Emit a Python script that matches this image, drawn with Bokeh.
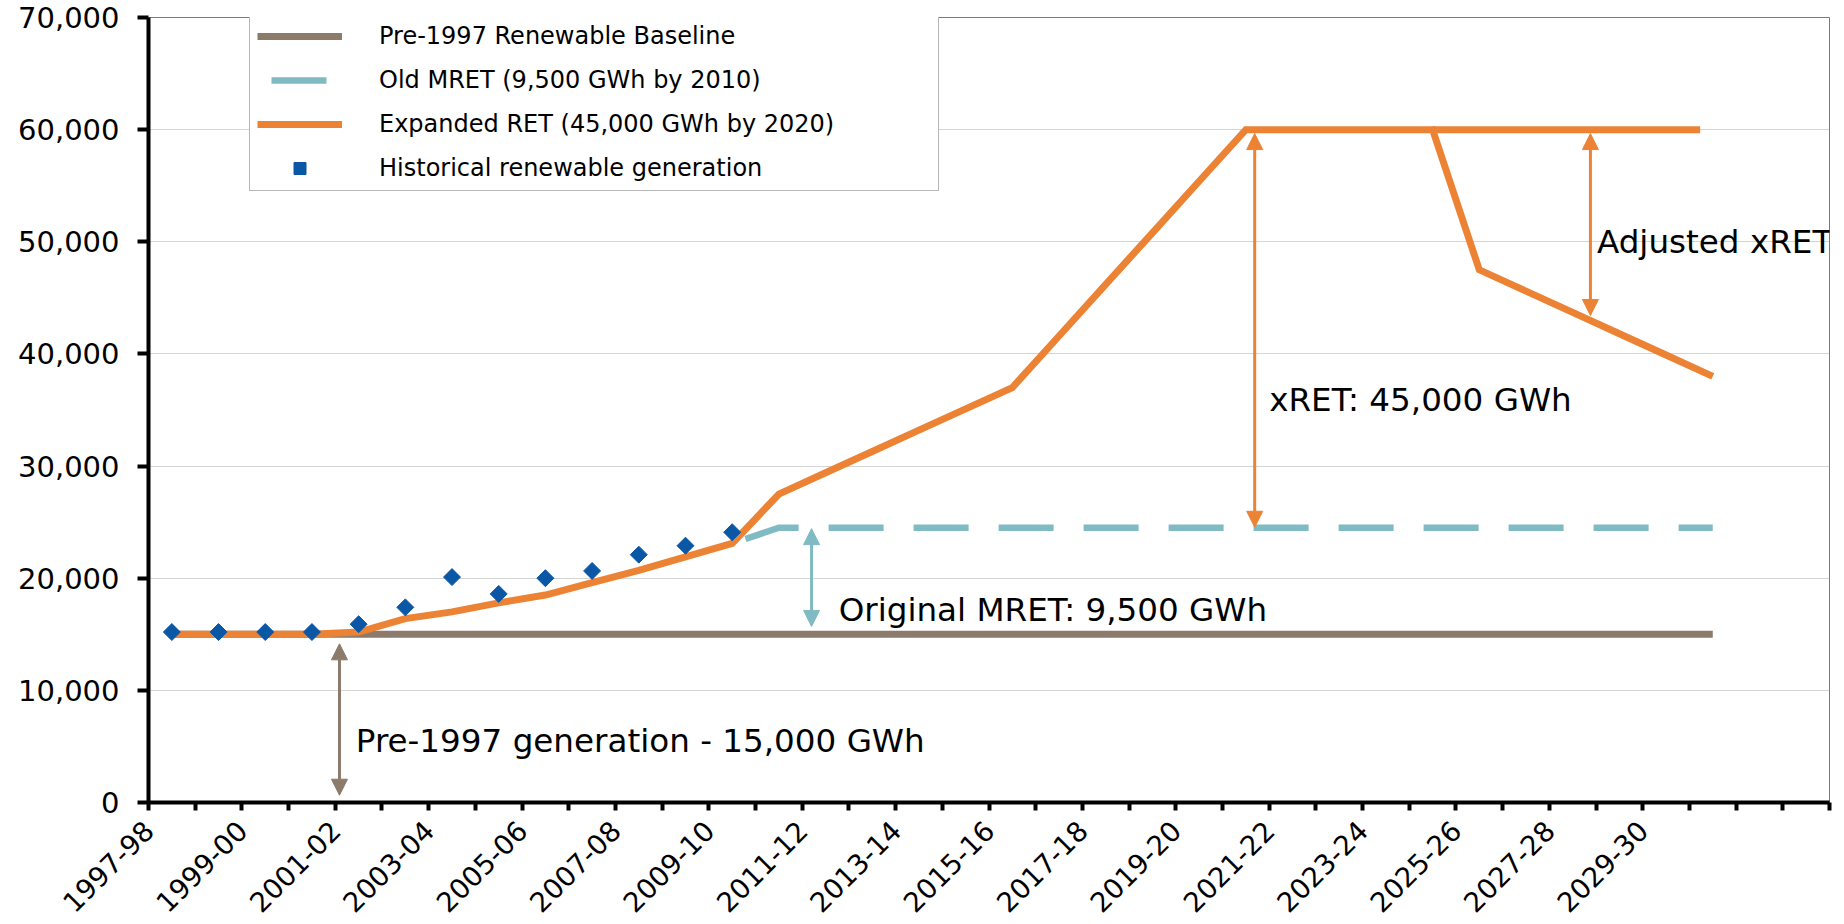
import math
from bokeh.plotting import figure
from bokeh.models import (Range1d, FixedTicker, NumeralTickFormatter, Legend, LegendItem,
                          Arrow, NormalHead, LinearAxis)
from bokeh.core.properties import value
from bokeh.embed import file_html
from bokeh.resources import INLINE

# ---------------- data ----------------
categories = ["1997-98", "1998-99", "1999-00", "2000-01", "2001-02", "2002-03",
              "2003-04", "2004-05", "2005-06", "2006-07", "2007-08", "2008-09",
              "2009-10", "2010-11", "2011-12", "2012-13", "2013-14", "2014-15",
              "2015-16", "2016-17", "2017-18", "2018-19", "2019-20", "2020-21",
              "2021-22", "2022-23", "2023-24", "2024-25", "2025-26", "2026-27",
              "2027-28", "2028-29", "2029-30", "2030-31", "2031-32", "2032-33"]
tick_labels = ["1997-98", "1999-00", "2001-02", "2003-04", "2005-06", "2007-08",
               "2009-10", "2011-12", "2013-14", "2015-16", "2017-18", "2019-20",
               "2021-22", "2023-24", "2025-26", "2027-28", "2029-30"]
y_ticks = [0, 10000, 20000, 30000, 40000, 50000, 60000, 70000]

historical_vals = [15200, 15200, 15200, 15200, 15900, 17400, 20100, 18600,
                   20000, 20650, 22100, 22900, 24100]          # 1997-98 .. 2009-10

expanded_ret_vals = [15000, 15000, 15000, 15000, 15200, 16400, 17000, 17800,
                     18500, 19600, 20700, 21900, 23100, 27500, 29400, 31300,
                     33200, 35100, 37000, 41600, 46200, 50800, 55400, 60000,
                     60000, 60000, 60000, 60000, 47500, 45600, 43700, 41800,
                     39900, 38000]                               # 1997-98 .. 2030-31

baseline_cats = ["1997-98", "2030-31"]
baseline_vals = [15000, 15000]

old_mret_cats = ["2009-10", "2010-11", "2030-31"]
old_mret_vals = [23100, 24500, 24500]

xret_hold_cats = ["2024-25", "2030-31"]
xret_hold_vals = [60000, 60000]

note_texts = ["Pre-1997 generation - 15,000 GWh", "Original MRET: 9,500 GWh",
              "xRET: 45,000 GWh", "Adjusted xRET"]

# ---------------- layout / style ----------------
note_x = [4.44, 14.78, 24.0, 31.02]
note_y = [5440, 17170, 35900, 49970]

arrow_x = [4.09, 14.2, 23.69, 30.88]
arrow_y_top = [14150, 24420, 59650, 59650]
arrow_y_bottom = [650, 15700, 24540, 43430]

HOLD_TRIM = 0.27

BROWN = "#8c7a6b"
TEAL = "#80bac3"
ORANGE = "#ec8334"
BLUE = "#0a57a6"
FONT = "DejaVu Sans"
arrow_colors = [BROWN, TEAL, ORANGE, ORANGE]


def cx(cat):
    return categories.index(cat) + 0.5


n_cat = len(categories)
p = figure(width=1836, height=924, title=None,
           x_range=Range1d(0, n_cat), y_range=Range1d(0, 70000),
           output_backend="svg", toolbar_location=None,
           min_border_left=148, min_border_right=7, min_border_top=17, min_border_bottom=122)
p.background_fill_color = "white"
p.border_fill_color = "white"
p.outline_line_color = "#7a7a7a"
p.outline_line_width = 1

# y axis
yax = p.yaxis[0]
yax.ticker = FixedTicker(ticks=y_ticks)
yax.formatter = NumeralTickFormatter(format="0,0")
yax.major_label_text_font = FONT
yax.major_label_text_font_size = "29px"
yax.major_label_text_color = "black"
yax.major_label_standoff = 18
yax.major_tick_out = 11
yax.major_tick_in = 0
yax.major_tick_line_width = 4
yax.minor_tick_line_color = None
yax.axis_line_width = 4
yax.axis_line_color = "black"

# x axis: tick marks at every category boundary (no labels of its own)
xax = p.xaxis[0]
xax.ticker = FixedTicker(ticks=[], minor_ticks=list(range(n_cat + 1)))
xax.major_tick_out = 0
xax.major_tick_in = 0
xax.major_label_standoff = 0
xax.minor_tick_out = 8
xax.minor_tick_in = 0
xax.minor_tick_line_width = 4
xax.minor_tick_line_color = "black"
xax.major_tick_line_color = None
xax.axis_line_width = 4
xax.axis_line_color = "black"

# x axis labels: every other financial year, rotated
lab_axis = LinearAxis(ticker=FixedTicker(ticks=[categories.index(t) for t in tick_labels]),
                      major_label_overrides={categories.index(t): t for t in tick_labels},
                      major_label_orientation=math.pi / 4, major_label_standoff=15,
                      major_tick_out=0, major_tick_in=0, major_tick_line_color=None,
                      minor_tick_line_color=None, axis_line_color=None,
                      major_label_text_font=FONT, major_label_text_font_size="27.5px",
                      major_label_text_color="black")
p.add_layout(lab_axis, "below")

p.xgrid.visible = False
p.ygrid.grid_line_color = "#a8a8a8"
p.ygrid.grid_line_width = 1
p.ygrid.grid_line_dash = "1 1"

# series
base_r = p.line([cx(c) for c in baseline_cats], baseline_vals,
                line_color=BROWN, line_width=7)
teal_r = p.line([cx(c) for c in old_mret_cats], old_mret_vals,
                line_color=TEAL, line_width=6.5, line_dash="55 30",
                line_dash_offset=71, line_join="miter")
hold_r = p.line([cx(xret_hold_cats[0]), cx(xret_hold_cats[1]) - HOLD_TRIM], xret_hold_vals,
                line_color=ORANGE, line_width=7)
orange_r = p.line([cx(c) for c in categories[:len(expanded_ret_vals)]], expanded_ret_vals,
                  line_color=ORANGE, line_width=7, line_join="miter")
hist_r = p.scatter([cx(c) for c in categories[:len(historical_vals)]], historical_vals,
                   marker="square", angle=math.pi / 4, size=12,
                   fill_color=BLUE, line_color=BLUE)

# annotations
for ax, y0, y1, col in zip(arrow_x, arrow_y_top, arrow_y_bottom, arrow_colors):
    p.add_layout(Arrow(x_start=ax, y_start=y0, x_end=ax, y_end=y1,
                       line_color=col, line_width=3,
                       start=NormalHead(size=16, fill_color=col, line_color=col, line_width=1),
                       end=NormalHead(size=16, fill_color=col, line_color=col, line_width=1)))

p.text(x=note_x, y=note_y, text=note_texts, text_font=value(FONT),
       text_font_size=value("32.6px"), text_color="black",
       text_align="left", text_baseline="alphabetic")

# legend
legend = Legend(items=[
    LegendItem(label=value("Pre-1997 Renewable Baseline"), renderers=[base_r]),
    LegendItem(label=value("Old MRET (9,500 GWh by 2010)"), renderers=[teal_r]),
    LegendItem(label=value("Expanded RET (45,000 GWh by 2020)"), renderers=[orange_r]),
    LegendItem(label=value("Historical renewable generation"), renderers=[hist_r]),
], location=(101, 611), orientation="vertical")
legend.label_text_font = FONT
legend.label_text_font_size = "24px"
legend.label_text_color = "black"
legend.glyph_width = 85
legend.glyph_height = 30
legend.label_height = 30
legend.label_width = 552
legend.label_standoff = 37
legend.spacing = 14
legend.padding = 7
legend.border_line_color = "#707070"
legend.border_line_width = 1.5
legend.background_fill_color = "white"
legend.background_fill_alpha = 1.0
p.add_layout(legend)

open("out.html", "w").write(file_html(p, INLINE))
